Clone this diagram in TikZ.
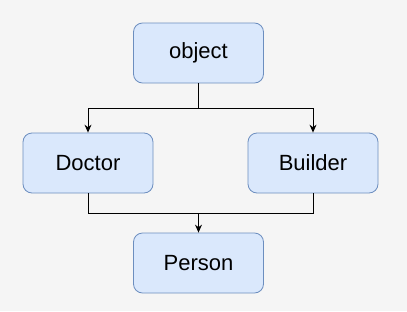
\documentclass[tikz,border=0pt]{standalone}
\usepackage{fontspec}
\setmainfont{Liberation Sans}
\usetikzlibrary{arrows.meta}
\definecolor{bg}{HTML}{F5F5F5}
\definecolor{boxfill}{HTML}{DAE8FC}
\definecolor{boxline}{HTML}{6C8EBF}
\begin{document}
\begin{tikzpicture}[x=1pt,y=-1pt,
  cls/.style={draw=boxline,fill=boxfill,line width=0.8pt,rounded corners=9pt,
    minimum width=130pt,minimum height=60pt,inner sep=0pt,
    font=\fontsize{22}{26}\selectfont},
  conn/.style={draw=black,line width=1pt},
  arr/.style={conn,-{Stealth[length=8pt,width=7pt]}}]
\fill[bg] (0,0) rectangle (407,311);
\useasboundingbox (0,0) rectangle (407,311);
\node[cls] (object) at (198.5,53) {object};
\node[cls] (doctor) at (88,163) {Doctor};
\node[cls] (builder) at (313,163) {Builder};
\node[cls] (person) at (198.5,263) {Person};
\coordinate (top) at (198.5,108);
\coordinate (bot) at (198.5,213);
\draw[conn] (object.south) -- (top);
\draw[arr] (top) -| (doctor.north);
\draw[arr] (top) -| (builder.north);
\draw[conn] (doctor.south) |- (bot);
\draw[conn] (builder.south) |- (bot);
\draw[arr] (bot) -- (person.north);
\end{tikzpicture}
\end{document}
